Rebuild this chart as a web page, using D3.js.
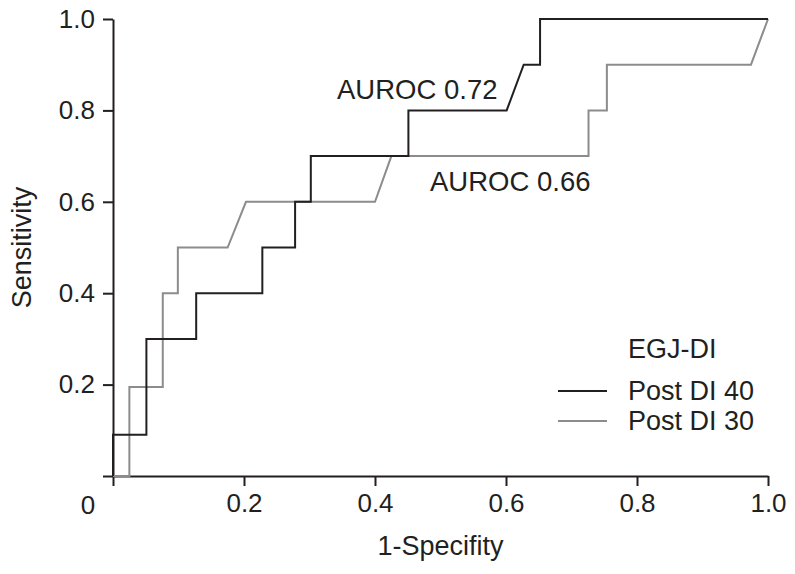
<!DOCTYPE html>
<html>
<head>
<meta charset="utf-8">
<script src="https://cdn.jsdelivr.net/npm/d3@7"></script>
<style>
  body { margin: 0; background: #fff; }
  text { font-family: "Liberation Sans", Arial, sans-serif; fill: #231f20; }
</style>
</head>
<body>
<script>
(() => {
  // ROC curves (x = 1-specificity, y = sensitivity)
  const fpr40  = [0, 0, 0.051, 0.051, 0.127, 0.127, 0.228, 0.228, 0.278, 0.278, 0.302, 0.302, 0.451, 0.451, 0.601, 0.627, 0.652, 0.652, 1.0];
  const sens40 = [0, 0.09, 0.09, 0.30, 0.30, 0.40, 0.40, 0.50, 0.50, 0.60, 0.60, 0.70, 0.70, 0.80, 0.80, 0.90, 0.90, 1.0, 1.0];

  const fpr30  = [0, 0.025, 0.025, 0.076, 0.076, 0.099, 0.099, 0.175, 0.203, 0.400, 0.425, 0.726, 0.726, 0.754, 0.754, 0.974, 1.0];
  const sens30 = [0, 0, 0.195, 0.195, 0.40, 0.40, 0.50, 0.50, 0.60, 0.60, 0.70, 0.70, 0.80, 0.80, 0.90, 0.90, 1.0];

  const series = ["Post DI 40", "Post DI 30"];
  const ticks = [0, 0.2, 0.4, 0.6, 0.8, 1.0];
  const aurocLabels = ["AUROC 0.72", "AUROC 0.66"];

  const width = 795, height = 574;
  const colors = ["#231f20", "#8c8c8c"];

  let x = d3.scaleLinear().domain([0, 1]).range([113, 768]);
  let y = d3.scaleLinear().domain([0, 1]).range([476, 19]);

  let svg = d3.select("body").append("svg")
    .attr("width", width)
    .attr("height", height);

  // axes
  let xAxis = svg.append("g")
    .attr("transform", "translate(0," + y(0) + ")")
    .call(d3.axisBottom(x).tickValues(ticks).tickSize(10).tickSizeOuter(0)
      .tickFormat(d => d === 0 ? "" : d3.format(".1f")(d)));

  let yAxis = svg.append("g")
    .attr("transform", "translate(" + x(0) + ",0)")
    .call(d3.axisLeft(y).tickValues(ticks).tickSize(10).tickSizeOuter(0)
      .tickFormat(d => d === 0 ? "" : d3.format(".1f")(d)));

  [xAxis, yAxis].forEach(g => {
    g.select(".domain").attr("stroke", "#231f20").attr("stroke-width", 2);
    g.selectAll(".tick line").attr("stroke", "#231f20").attr("stroke-width", 2);
    g.selectAll(".tick text")
      .style("font-family", "Liberation Sans, Arial, sans-serif")
      .attr("font-size", 26).attr("fill", "#231f20");
  });
  xAxis.selectAll(".tick text").attr("y", 18);
  yAxis.selectAll(".tick text").attr("x", -18);

  // origin label sits bottom-left of the corner
  svg.append("text")
    .attr("x", x(0) - 25).attr("y", 514)
    .attr("text-anchor", "middle")
    .attr("font-size", 26)
    .text("0");

  // axis titles
  svg.append("text")
    .attr("x", x(0.5)).attr("y", 555)
    .attr("text-anchor", "middle")
    .attr("font-size", 27)
    .text("1-Specifity");

  svg.append("text")
    .attr("transform", "translate(31," + y(0.5) + ") rotate(-90)")
    .attr("text-anchor", "middle")
    .attr("font-size", 27)
    .text("Sensitivity");

  // curves
  let line = d3.line()
    .x(d => x(d[0]))
    .y(d => y(d[1]));

  let curves = [d3.zip(fpr40, sens40), d3.zip(fpr30, sens30)];

  // draw gray first so black sits on top
  [1, 0].forEach(i => {
    svg.append("path")
      .datum(curves[i])
      .attr("fill", "none")
      .attr("stroke", colors[i])
      .attr("stroke-width", 2)
      .attr("d", line);
  });

  // AUROC annotations
  svg.append("text")
    .attr("x", 337).attr("y", 99)
    .attr("font-size", 27.5)
    .text(aurocLabels[0]);

  svg.append("text")
    .attr("x", 430).attr("y", 191)
    .attr("font-size", 27.5)
    .text(aurocLabels[1]);

  // legend
  svg.append("text")
    .attr("x", 628).attr("y", 358)
    .attr("font-size", 27)
    .text("EGJ-DI");

  series.forEach((s, i) => {
    let ly = 391 + i * 30;
    svg.append("line")
      .attr("x1", 558).attr("x2", 607)
      .attr("y1", ly).attr("y2", ly)
      .attr("stroke", colors[i])
      .attr("stroke-width", 2);
    svg.append("text")
      .attr("x", 628).attr("y", ly + 9)
      .attr("font-size", 27)
      .text(s);
  });
})()
</script>
</body>
</html>
